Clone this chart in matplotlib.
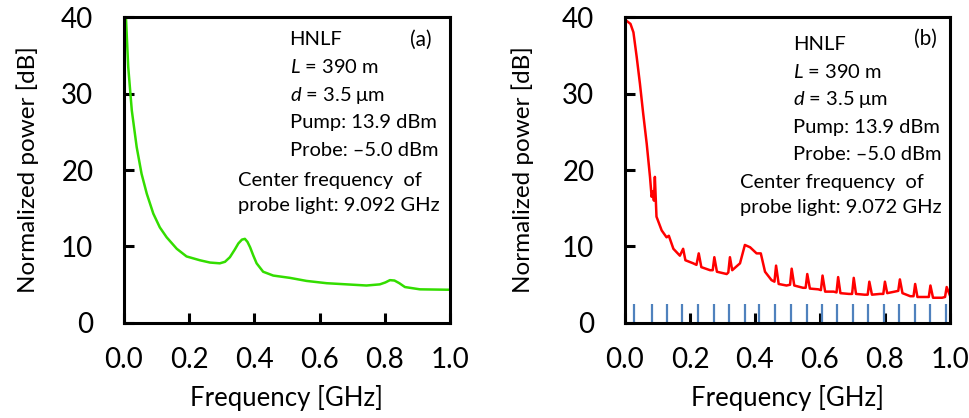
import matplotlib
matplotlib.use("Agg")
import matplotlib.pyplot as plt

plt.rcParams['font.family'] = ['Lato', 'DejaVu Sans']
plt.rcParams['mathtext.fontset'] = 'custom'
plt.rcParams['mathtext.rm'] = 'Lato'
plt.rcParams['mathtext.it'] = 'Lato:italic'

# (a) spectrum
freq_a = [0.0, 0.006, 0.013, 0.024, 0.039, 0.054, 0.07, 0.09, 0.11, 0.131, 0.162,
          0.192, 0.233, 0.264, 0.294, 0.31, 0.325, 0.34, 0.351, 0.362, 0.371,
          0.379, 0.387, 0.397, 0.407, 0.427,
          0.458, 0.509, 0.56, 0.622, 0.683, 0.744, 0.785, 0.802, 0.816, 0.83,
          0.845, 0.862, 0.908, 0.99, 1.0]
power_a = [44.0, 40.0, 33.5, 27.8, 23.0, 19.5, 16.9, 14.3, 12.5, 11.2, 9.7,
           8.7, 8.2, 7.9, 7.8, 8.0, 8.6, 9.6, 10.4, 10.9, 11.0,
           10.6, 9.9, 8.8, 7.8, 6.7,
           6.2, 5.9, 5.5, 5.2, 5.05, 4.9, 5.05, 5.3, 5.6, 5.55,
           5.2, 4.7, 4.4, 4.35, 4.35]

# (b) spectrum with periodic spikes
freq_b = [0.0, 0.002, 0.017, 0.026, 0.036, 0.046, 0.056, 0.067, 0.077, 0.082, 0.086,
          0.089, 0.092, 0.097, 0.113, 0.128, 0.135, 0.149, 0.169, 0.179, 0.186,
          0.21, 0.22, 0.227, 0.235, 0.262, 0.27, 0.275, 0.283, 0.313, 0.318,
          0.323, 0.33, 0.354, 0.369, 0.385, 0.405, 0.418, 0.431, 0.451, 0.46,
          0.465, 0.473, 0.497, 0.508, 0.513, 0.521, 0.548, 0.556, 0.561, 0.569,
          0.595, 0.603, 0.608, 0.616, 0.642, 0.651, 0.656, 0.663, 0.689, 0.699,
          0.704, 0.711, 0.737, 0.747, 0.752, 0.76, 0.785, 0.795, 0.8, 0.807,
          0.83, 0.841, 0.846, 0.854, 0.878, 0.888, 0.893, 0.9, 0.925, 0.935,
          0.94, 0.948, 0.976, 0.985, 0.99, 1.0]
power_b = [24.0, 39.6, 39.1, 38.0, 34.8, 31.3, 27.4, 23.4, 19.1, 16.5, 17.2,
           16.0, 19.1, 13.9, 12.1, 11.2, 11.4, 9.7, 8.8, 9.7, 8.2,
           7.8, 7.6, 9.1, 7.3, 6.9, 6.9, 8.6, 6.7, 6.4, 6.6,
           8.6, 6.9, 7.8, 10.2, 9.9, 9.1, 9.1, 6.7, 5.6, 5.4,
           7.5, 5.1, 4.9, 5.0, 7.1, 4.9, 4.6, 4.6, 6.4, 4.5,
           4.4, 4.3, 6.2, 4.1, 4.1, 4.0, 6.0, 3.9, 3.8, 3.8,
           5.9, 3.8, 3.7, 3.7, 5.4, 3.7, 3.8, 3.8, 5.4, 3.9,
           4.1, 4.2, 5.7, 3.9, 3.5, 3.5, 5.1, 3.4, 3.4, 3.4,
           4.9, 3.3, 3.3, 3.4, 4.7, 3.6]

# blue markers along the bottom of (b)
marker_freqs = [0.0287, 0.082, 0.129, 0.177, 0.226, 0.273, 0.321, 0.369, 0.413,
                0.463, 0.511, 0.559, 0.607, 0.654, 0.703, 0.749, 0.797, 0.844,
                0.892, 0.938, 0.987]

info_lines = ["HNLF", "$\\mathit{L}$ = 390 m", "$\\mathit{d}$ = 3.5 μm",
              "Pump: 13.9 dBm", "Probe: \u20135.0 dBm"]
center_a = "Center frequency  of\nprobe light: 9.092 GHz"
center_b = "Center frequency  of\nprobe light: 9.072 GHz"

fig = plt.figure(figsize=(9.70, 4.18), dpi=100)
ax_a = fig.add_axes([0.1278, 0.2273, 0.336, 0.732])
ax_b = fig.add_axes([0.6443, 0.2273, 0.335, 0.732])


def style(ax, ypad):
    ax.set_xlim(0, 1.0)
    ax.set_ylim(0, 40)
    ax.set_xticks([0.0, 0.2, 0.4, 0.6, 0.8, 1.0])
    ax.set_xticklabels(["0.0", "0.2", "0.4", "0.6", "0.8", "1.0"])
    ax.set_yticks([0, 10, 20, 30, 40])
    for s in ax.spines.values():
        s.set_linewidth(2.2)
    ax.tick_params(direction='in', length=7, width=2.2, labelsize=20)
    ax.tick_params(axis='y', pad=22)
    ax.tick_params(axis='x', pad=17)
    ax.set_xlabel("Frequency [GHz]", fontsize=18.5, labelpad=9)
    ax.set_ylabel("Normalized power [dB]", fontsize=17.5, labelpad=ypad)


style(ax_a, 16)
style(ax_b, 20)

ax_a.plot(freq_a, power_a, color='#33dd00', lw=1.8)
ax_b.vlines(marker_freqs, 0, 2.5, color='#4f81bd', lw=1.6)
ax_b.plot(freq_b, power_b, color='#ff0000', lw=1.8)

for ax, (x0, y0), (xc, yc), center, tag, (xt, yt) in [
        (ax_a, (0.508, 0.925), (0.351, 0.494), center_a, "(a)", (0.878, 0.925)),
        (ax_b, (0.516, 0.91), (0.355, 0.487), center_b, "(b)", (0.888, 0.93))]:
    for i, line in enumerate(info_lines):
        ax.text(x0, y0 - i * 0.09, line, transform=ax.transAxes, fontsize=14.5,
                va='center', ha='left')
    ax.text(xc, yc, center, transform=ax.transAxes, fontsize=14.5,
            va='top', ha='left', linespacing=1.55)
    ax.text(xt, yt, tag, transform=ax.transAxes, fontsize=15,
            va='center', ha='left')

fig.savefig("out.png", dpi=100)
